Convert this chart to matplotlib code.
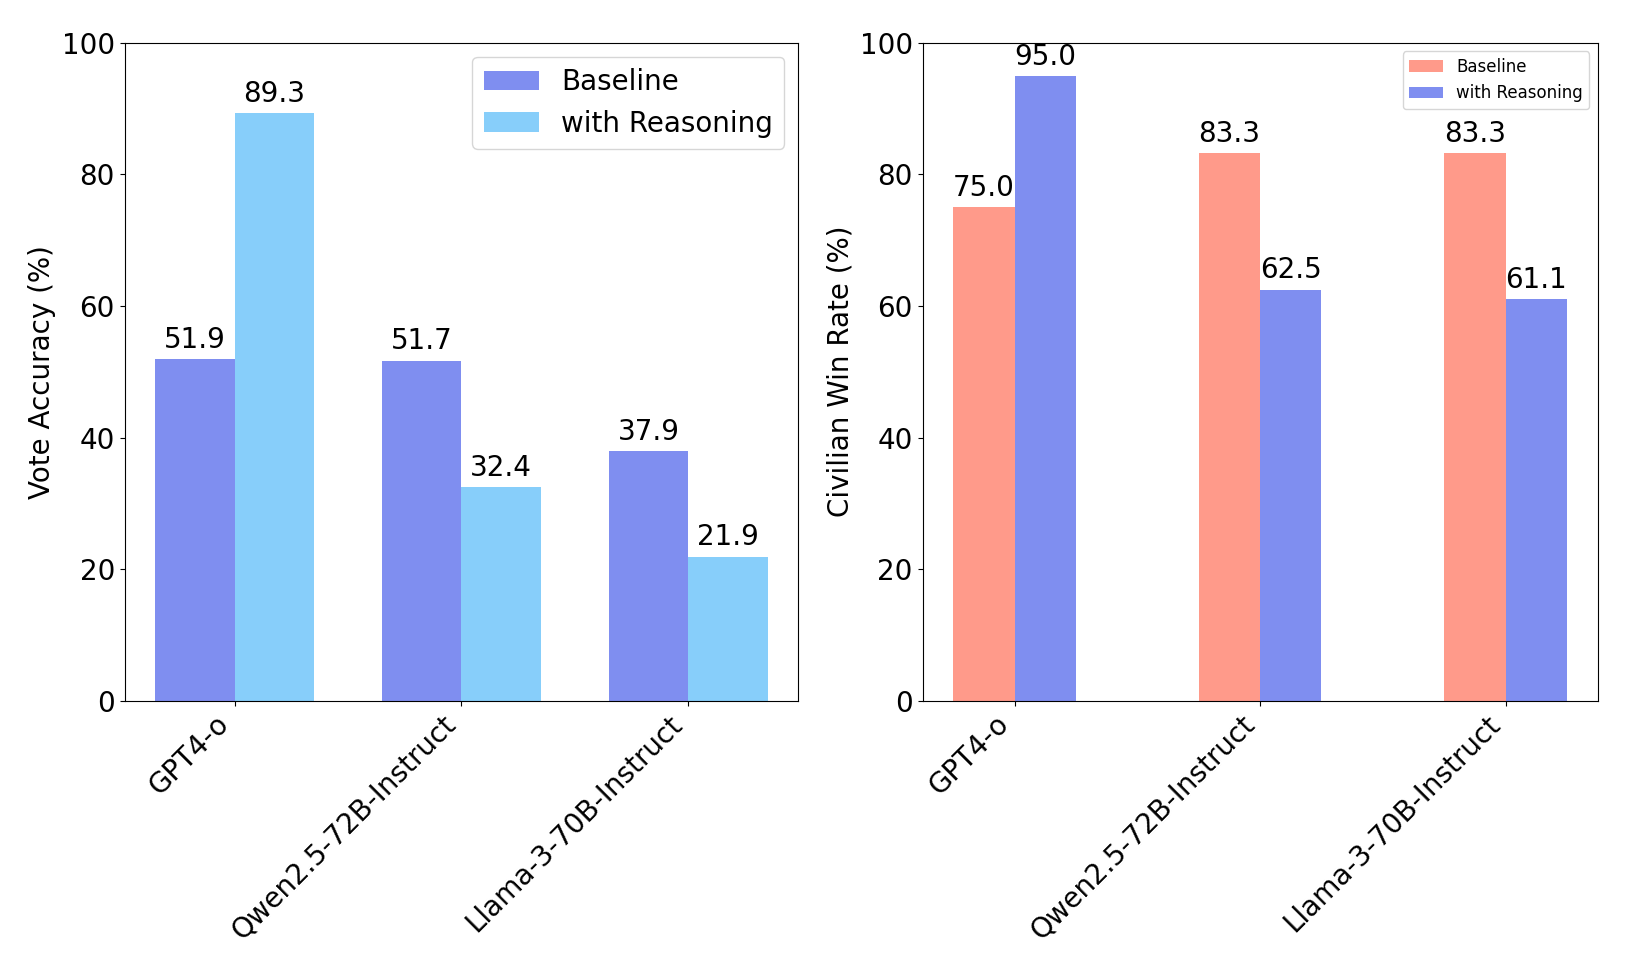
import numpy as np
import matplotlib.pyplot as plt

models = ['GPT4-o', 'Qwen2.5-72B-Instruct', 'Llama-3-70B-Instruct']

vote_baseline = [51.9, 51.7, 37.9]
vote_reasoning = [89.3, 32.4, 21.9]

win_baseline = [75.0, 83.3, 83.3]
win_reasoning = [95.0, 62.5, 61.1]

blue = '#7f8ef0'
light = '#87cefa'
salmon = '#ff9a8a'

fig = plt.figure(figsize=(16.27, 9.77), dpi=100)
ax1 = fig.add_axes([0.0766, 0.283, 0.414, 0.673])
ax2 = fig.add_axes([0.567, 0.283, 0.415, 0.673])

x = np.arange(len(models))

# left: vote accuracy
w = 0.35
b1 = ax1.bar(x - w/2, vote_baseline, w, color=blue, label='Baseline')
b2 = ax1.bar(x + w/2, vote_reasoning, w, color=light, label='with Reasoning')
for bars in (b1, b2):
    for b in bars:
        ax1.text(b.get_x() + b.get_width()/2, b.get_height() + 0.8, '%.1f' % b.get_height(),
                 ha='center', va='bottom', fontsize=20)
ax1.set_ylim(0, 100)
ax1.set_ylabel('Vote Accuracy (%)', fontsize=20)
ax1.set_xticks(x)
ax1.set_xticklabels(models, rotation=45, ha='right', fontsize=20)
ax1.tick_params(axis='y', labelsize=20)
ax1.legend(fontsize=20, loc='upper right')

# right: civilian win rate
w2 = 0.25
c1 = ax2.bar(x - w2/2, win_baseline, w2, color=salmon, label='Baseline')
c2 = ax2.bar(x + w2/2, win_reasoning, w2, color=blue, label='with Reasoning')
for bars in (c1, c2):
    for b in bars:
        ax2.text(b.get_x() + b.get_width()/2, b.get_height() + 0.8, '%.1f' % b.get_height(),
                 ha='center', va='bottom', fontsize=20)
ax2.set_ylim(0, 100)
ax2.set_ylabel('Civilian Win Rate (%)', fontsize=20)
ax2.set_xticks(x)
ax2.set_xticklabels(models, rotation=45, ha='right', fontsize=20)
ax2.tick_params(axis='y', labelsize=20)
ax2.legend(fontsize=12, loc='upper right')

fig.savefig('out.png', dpi=100)
